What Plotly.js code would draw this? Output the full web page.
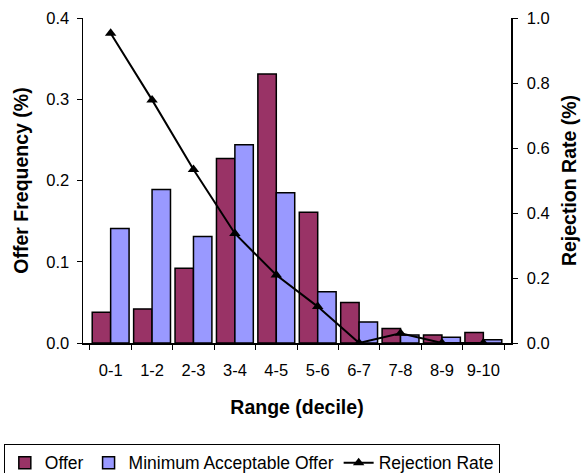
<!DOCTYPE html>
<html>
<head>
<meta charset="utf-8">
<script src="https://cdn.plot.ly/plotly-3.0.1.min.js"></script>
<style>html,body{margin:0;padding:0;background:#fff;}#chart{width:584px;height:473px;}</style>
</head>
<body>
<div id="chart"></div>
<script>
const categories = ["0-1","1-2","2-3","3-4","4-5","5-6","6-7","7-8","8-9","9-10"];
const offer = [0.038, 0.042, 0.092, 0.227, 0.331, 0.161, 0.050, 0.018, 0.010, 0.013];
const minAcceptable = [0.141, 0.189, 0.131, 0.244, 0.185, 0.063, 0.026, 0.010, 0.007, 0.004];
const rejectionRate = [0.953, 0.748, 0.534, 0.337, 0.209, 0.112, 0.0, 0.030, 0.0, 0.0];
const leftTicks = [0, 0.1, 0.2, 0.3, 0.4];
const rightTicks = [0, 0.2, 0.4, 0.6, 0.8, 1.0];

const FONT = "Liberation Sans, Arial, sans-serif";
const tickFont = {family: FONT, size: 16.5, color: "#000"};
const titleFont = {family: FONT, size: 19.5, color: "#000", weight: "bold"};

const traces = [
  {type: "bar", name: "Offer", x: categories, y: offer, xaxis: "x", yaxis: "y",
   marker: {color: "#993366", line: {color: "#000", width: 1.5}}},
  {type: "bar", name: "Minimum Acceptable Offer", x: categories, y: minAcceptable, xaxis: "x", yaxis: "y",
   marker: {color: "#9999FF", line: {color: "#000", width: 1.5}}},
  {type: "scatter", mode: "lines+markers", name: "Rejection Rate", x: categories, y: rejectionRate,
   xaxis: "x", yaxis: "y2",
   line: {color: "#000", width: 2}, marker: {symbol: "triangle-up", size: 10, color: "#000"}}
];

const layout = {
  width: 584, height: 473,
  margin: {l: 83, r: 73, t: 18, b: 130, pad: 0, autoexpand: false},
  paper_bgcolor: "#fff", plot_bgcolor: "#fff",
  barmode: "group", bargap: 0.11, bargroupgap: 0,
  showlegend: true,
  legend: {orientation: "h", x: -0.185, y: -0.31, xanchor: "left", yanchor: "top",
           bordercolor: "#000", borderwidth: 1, font: {family: FONT, size: 17.5, color: "#000"},
           traceorder: "normal", itemwidth: 30, tracegroupgap: 0},
  xaxis: {type: "category", tickson: "boundaries", ticks: "outside", ticklen: 5, tickwidth: 1, tickcolor: "#000",
          tickangle: 0, automargin: false, ticklabelstandoff: 12,
          showline: true, linecolor: "#000", linewidth: 1.5, showgrid: false, zeroline: false,
          tickfont: tickFont, title: {text: "Range (decile)", font: titleFont, standoff: 22}},
  xaxis2: {overlaying: "x", anchor: "y", type: "linear", range: [-0.5, 9.5], tick0: -0.5, dtick: 1,
           ticks: "inside", ticklen: 5, tickwidth: 1, tickcolor: "#000", showticklabels: false, automargin: false,
           showline: false, showgrid: false, zeroline: false},
  xaxis3: {overlaying: "x", anchor: "y", side: "top", type: "linear", range: [-0.5, 9.5], automargin: false,
           ticks: "", showticklabels: false, showline: true, linecolor: "#808080", linewidth: 1.5,
           showgrid: false, zeroline: false},
  yaxis: {range: [0, 0.4], tickvals: leftTicks, tickformat: ".1f", ticks: "outside", ticklen: 5, tickwidth: 1,
          tickcolor: "#000", showline: true, linecolor: "#000", linewidth: 1.5, showgrid: false, zeroline: false,
          tickfont: tickFont, ticklabelstandoff: 4, automargin: false,
          title: {text: "Offer Frequency (%)", font: titleFont, standoff: 12}},
  yaxis3: {overlaying: "y", anchor: "x", side: "left", range: [0, 0.4], tickvals: leftTicks, automargin: false,
           ticks: "inside", ticklen: 5, tickwidth: 1, tickcolor: "#000", showticklabels: false,
           showline: false, showgrid: false, zeroline: false},
  yaxis2: {overlaying: "y", anchor: "x", side: "right", range: [0, 1], tickvals: rightTicks, tickformat: ".1f",
           ticks: "outside", ticklen: 5, tickwidth: 1, tickcolor: "#000", showline: true, linecolor: "#000",
           linewidth: 1.5, showgrid: false, zeroline: false, tickfont: tickFont, ticklabelstandoff: 6, automargin: false,
           title: {text: "Rejection Rate (%)", font: titleFont, standoff: 13}},
  yaxis4: {overlaying: "y", anchor: "x", side: "right", range: [0, 1], tickvals: rightTicks, automargin: false,
           ticks: "inside", ticklen: 5, tickwidth: 1, tickcolor: "#000", showticklabels: false,
           showline: false, showgrid: false, zeroline: false}
};

Plotly.newPlot("chart", traces, layout, {displayModeBar: false, staticPlot: true});
</script>
</body>
</html>
